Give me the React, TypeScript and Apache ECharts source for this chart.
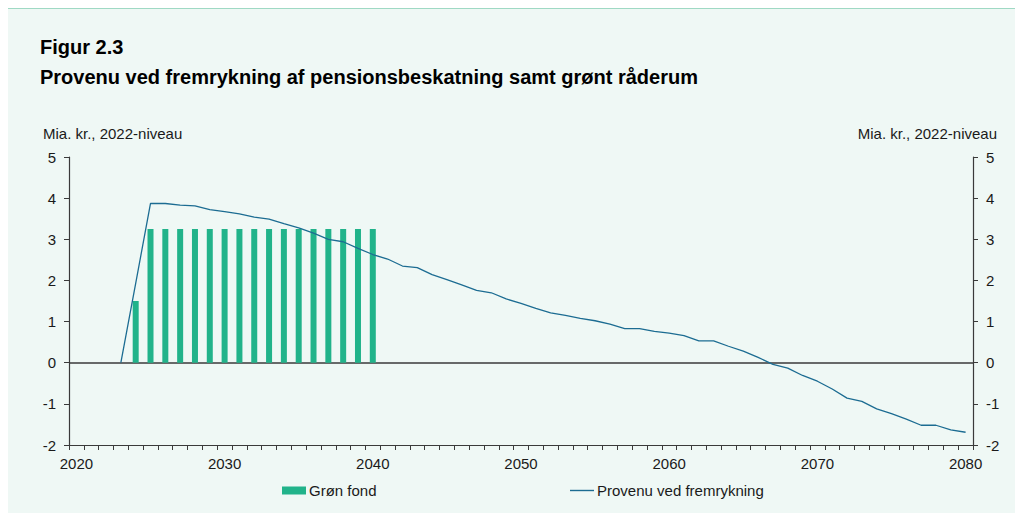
import React, { useEffect, useRef } from "react";
import * as echarts from "echarts";

const years: string[] = [];
for (let y = 2020; y <= 2080; y++) years.push(String(y));

// Grøn fond (bars), 2020..2080
const gronFond: (number | null)[] = [
  null, null, null, null, 1.5,
  3.25, 3.25, 3.25, 3.25, 3.25, 3.25, 3.25, 3.25,
  3.25, 3.25, 3.25, 3.25, 3.25, 3.25, 3.25, 3.25,
  null, null, null, null, null, null, null, null, null, null,
  null, null, null, null, null, null, null, null, null, null,
  null, null, null, null, null, null, null, null, null, null,
  null, null, null, null, null, null, null, null, null, null,
];

// Provenu ved fremrykning (line), 2020..2080
const provenu: (number | null)[] = [
  null, null, null, 0, 1.93,
  3.87, 3.87, 3.83, 3.81, 3.72, 3.67, 3.62, 3.54, 3.49, 3.38,
  3.28, 3.15, 3.0, 2.94, 2.78, 2.63, 2.52, 2.35, 2.31, 2.14,
  2.02, 1.89, 1.76, 1.7, 1.55, 1.44, 1.32, 1.21, 1.15, 1.08,
  1.02, 0.94, 0.83, 0.83, 0.76, 0.72, 0.66, 0.53, 0.53, 0.4,
  0.28, 0.13, -0.04, -0.13, -0.31, -0.45, -0.64, -0.86, -0.94, -1.12,
  -1.24, -1.37, -1.52, -1.52, -1.63, -1.69,
];

const yTicks = { min: -2, max: 5, interval: 1 };

const titleText = "Figur 2.3";
const subtitleText = "Provenu ved fremrykning af pensionsbeskatning samt grønt råderum";
const unitText = "Mia. kr., 2022-niveau";
const barName = "Grøn fond";
const lineName = "Provenu ved fremrykning";

const FONT = "'Liberation Sans', Arial, Helvetica, sans-serif";
const GREEN = "#21B38A";
const BLUE = "#1C6C92";
const AXIS = "#3a3a3a";
const TEXT = "#1a1a1a";

export default function App() {
  const ref = useRef<HTMLDivElement>(null);
  useEffect(() => {
    if (!ref.current) return;
    const chart = echarts.init(ref.current, undefined, { renderer: "svg" });
    const yAxisBase = (pos: "left" | "right") => ({
      type: "value" as const,
      position: pos,
      min: yTicks.min,
      max: yTicks.max,
      interval: yTicks.interval,
      axisLine: { show: true, lineStyle: { color: AXIS, width: 1.2 } },
      axisTick: { show: true, inside: false, length: 5, lineStyle: { color: AXIS } },
      splitLine: { show: false },
      axisLabel: { fontSize: 15, color: TEXT, fontFamily: FONT, margin: 13 },
    });
    chart.setOption({
      animation: false,
      backgroundColor: "#ffffff",
      textStyle: { fontFamily: FONT },
      graphic: [
        { type: "rect", shape: { x: 8, y: 8, width: 1007, height: 505 }, style: { fill: "#EFF8F5" }, z: -10, silent: true },
        { type: "line", shape: { x1: 8, y1: 8.5, x2: 1015, y2: 8.5 }, style: { stroke: "#9FD9C4", lineWidth: 1 }, z: -9, silent: true },
        { type: "text", x: 40, y: 47, style: { text: titleText, font: `bold 20px ${FONT}`, fill: "#000", textVerticalAlign: "middle" } },
        { type: "text", x: 40, y: 77, style: { text: subtitleText, font: `bold 20px ${FONT}`, fill: "#000", textVerticalAlign: "middle" } },
        { type: "text", x: 43, y: 133, style: { text: unitText, font: `15px ${FONT}`, fill: TEXT, textVerticalAlign: "middle" } },
        { type: "text", x: 997, y: 133, style: { text: unitText, font: `15px ${FONT}`, fill: TEXT, textAlign: "right", textVerticalAlign: "middle" } },
      ],
      grid: { left: 69, right: 42, top: 157, bottom: 68, containLabel: false },
      legend: [
        {
          data: [barName], left: 282, top: 483, padding: 0, itemWidth: 24, itemHeight: 8, itemGap: 0,
          icon: "rect",
          textStyle: { fontSize: 15, color: TEXT, fontFamily: FONT, padding: [0, 0, 0, -2] },
        },
        {
          data: [lineName], left: 570, top: 483, padding: 0, itemWidth: 24, itemHeight: 1.4, itemGap: 0,
          icon: "rect",
          itemStyle: { color: BLUE },
          textStyle: { fontSize: 15, color: TEXT, fontFamily: FONT, padding: [0, 0, 0, -2] },
        },
      ],
      xAxis: {
        type: "category",
        data: years,
        boundaryGap: true,
        axisLine: { onZero: false, lineStyle: { color: AXIS, width: 1.2 } },
        axisTick: { show: true, inside: false, length: 5, interval: 0, alignWithLabel: false, lineStyle: { color: AXIS } },
        axisLabel: {
          fontSize: 15, color: TEXT, fontFamily: FONT, margin: 11,
          interval: (idx: number) => idx % 10 === 0,
        },
        splitLine: { show: false },
      },
      yAxis: [yAxisBase("left"), yAxisBase("right")],
      series: [
        {
          name: barName,
          type: "bar",
          data: gronFond,
          barWidth: 6,
          itemStyle: { color: GREEN },
          yAxisIndex: 0,
        },
        {
          name: lineName,
          type: "line",
          data: provenu,
          showSymbol: false,
          symbol: "none",
          connectNulls: false,
          lineStyle: { color: BLUE, width: 1.3 },
          itemStyle: { color: BLUE },
          yAxisIndex: 0,
          z: 3,
          markLine: {
            silent: true,
            symbol: "none",
            label: { show: false },
            lineStyle: { color: AXIS, width: 1.5, type: "solid" },
            data: [{ yAxis: 0 }],
            z: 1,
          },
        },
      ],
    });
    return () => chart.dispose();
  }, []);
  return (
    <div
      ref={ref}
      style={{ position: "fixed", left: 0, top: 0, width: 1015, height: 513 }}
    />
  );
}
